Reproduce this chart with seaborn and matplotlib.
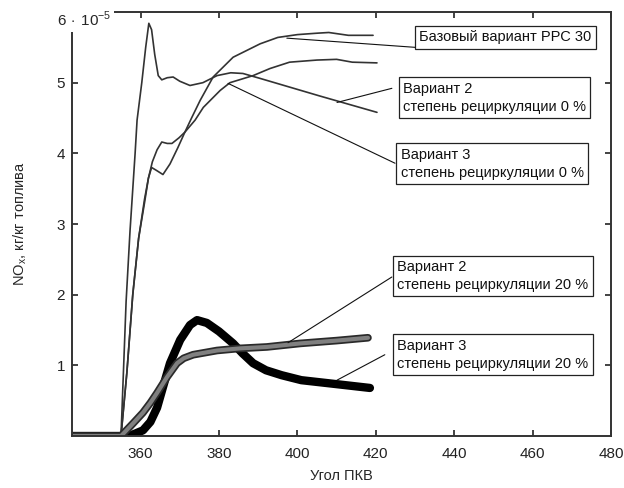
import matplotlib
matplotlib.use("Agg")
import matplotlib.pyplot as plt
import matplotlib.patheffects as pe
import pandas as pd
import seaborn as sns

# Crank angle (deg) and NOx (x 1e-5 kg/kg fuel)
base_x = [342.5, 355.0, 356.5, 358.0, 359.5, 361.0, 362.0, 362.8, 364.0, 365.7, 367.5,
          369.5, 371.3, 373.0, 375.2, 378.5, 383.6, 390.5, 395.0, 400.0, 405.0, 408.0,
          413.0, 419.3]
base_y = [0.0, 0.0, 0.9, 2.0, 2.8, 3.3, 3.65, 3.80, 3.76, 3.70, 3.85,
          4.08, 4.30, 4.50, 4.75, 5.08, 5.36, 5.55, 5.64, 5.68, 5.70, 5.71,
          5.67, 5.67]

v2_0_x = [342.5, 355.0, 356.3, 357.3, 358.6, 359.1, 360.3, 361.3, 362.1, 362.8, 363.6,
          364.5, 365.4, 366.8, 368.3, 370.0, 372.6, 375.9, 379.5, 383.0, 386.1,
          390.5, 405.8, 420.3]
v2_0_y = [0.0, 0.0, 1.9, 2.9, 4.0, 4.47, 5.0, 5.5, 5.84, 5.75, 5.4,
          5.1, 5.04, 5.07, 5.08, 5.02, 4.96, 5.0, 5.1, 5.14, 5.13,
          5.06, 4.81, 4.58]

v3_0_x = [342.5, 355.0, 356.5, 358.0, 359.5, 361.0, 362.0, 363.0, 364.2, 365.4, 366.8,
          368.0, 369.8, 371.3, 373.9, 376.0, 380.3, 382.8, 388.7, 393.0, 398.0,
          405.0, 410.0, 414.0, 420.3]
v3_0_y = [0.0, 0.0, 0.9, 2.0, 2.8, 3.35, 3.65, 3.88, 4.05, 4.16, 4.14,
          4.14, 4.22, 4.30, 4.47, 4.65, 4.89, 5.0, 5.1, 5.2, 5.29,
          5.32, 5.33, 5.29, 5.28]

v2_20_x = [342.5, 355.0, 358.1, 360.6, 362.5, 364.2, 366.7, 369.3, 371.0, 373.4,
           379.5, 385.4, 392.2, 400.7, 410.0, 418.0]
v2_20_y = [0.0, 0.0, 0.18, 0.33, 0.47, 0.61, 0.83, 1.03, 1.10, 1.15,
           1.21, 1.24, 1.26, 1.31, 1.35, 1.39]

v3_20_x = [342.5, 356.0, 358.0, 360.6, 362.5, 364.2, 365.7, 367.5, 370.1, 372.6,
           374.4, 376.9, 380.0, 383.6, 386.0, 388.7, 392.0, 396.0, 401.0, 409.0, 418.5]
v3_20_y = [0.0, 0.0, 0.02, 0.08, 0.2, 0.4, 0.69, 1.03, 1.36, 1.57,
           1.64, 1.60, 1.48, 1.31, 1.17, 1.03, 0.93, 0.86, 0.79, 0.74, 0.68]

x_ticks = [360, 380, 400, 420, 440, 460, 480]
y_ticks = [1, 2, 3, 4, 5]

labels = ["Базовый вариант РРС 30",
          "Вариант 2\nстепень рециркуляции 0 %",
          "Вариант 3\nстепень рециркуляции 0 %",
          "Вариант 2\nстепень рециркуляции 20 %",
          "Вариант 3\nстепень рециркуляции 20 %"]

sns.set_theme(style="ticks")
plt.rcParams["font.family"] = ["Liberation Sans", "DejaVu Sans"]
plt.rcParams["mathtext.fontset"] = "custom"
plt.rcParams["mathtext.rm"] = "Liberation Sans"
plt.rcParams["xtick.direction"] = "in"
plt.rcParams["ytick.direction"] = "in"

fig = plt.figure(figsize=(6.24, 4.88), dpi=100)
ax = fig.add_axes([72 / 624, 1 - 436 / 488, 539 / 624, 424 / 488])

thin = dict(color="#333333", linewidth=1.2)
sns.lineplot(data=pd.DataFrame({"x": base_x, "y": base_y}), x="x", y="y", ax=ax, **thin)
sns.lineplot(data=pd.DataFrame({"x": v2_0_x, "y": v2_0_y}), x="x", y="y", ax=ax, **thin)
sns.lineplot(data=pd.DataFrame({"x": v3_0_x, "y": v3_0_y}), x="x", y="y", ax=ax, **thin)

sns.lineplot(data=pd.DataFrame({"x": v3_20_x, "y": v3_20_y}), x="x", y="y", ax=ax,
             color="black", linewidth=6, solid_capstyle="round")
sns.lineplot(data=pd.DataFrame({"x": v2_20_x, "y": v2_20_y}), x="x", y="y", ax=ax,
             color="#808080", linewidth=3, solid_capstyle="round",
             path_effects=[pe.Stroke(linewidth=5.5, foreground="#2a2a2a"), pe.Normal()])

ax.set_xlim(342.5, 480)
ax.set_ylim(0, 6)
ax.set_xticks(x_ticks)
ax.set_yticks(y_ticks)
ax.tick_params(axis="both", labelsize=11, length=4, width=1.2, colors="#222222",
               top=True, right=True)
ax.tick_params(axis="x", pad=8)
ax.tick_params(axis="y", pad=5)
for s in ax.spines.values():
    s.set_linewidth(1.4)
    s.set_color("#333333")

ax.set_xlabel("Угол ПКВ", fontsize=10.5, labelpad=6)
ax.set_ylabel("NO$_\\mathrm{x}$, кг/кг топлива", fontsize=10.5, labelpad=20)

ax.text(-0.028, 0.982, "6$\\,\\cdot\\,$10$^{-5}$", transform=ax.transAxes, fontsize=11,
        ha="left", va="center",
        bbox=dict(boxstyle="square,pad=0.2", fc="white", ec="none"))

# Callout boxes (axes fractions)
box_pos = [(0.644, 0.940), (0.614, 0.798), (0.610, 0.642), (0.603, 0.377), (0.603, 0.192)]
for (bx, by), txt in zip(box_pos, labels):
    ax.text(bx, by, txt, transform=ax.transAxes, fontsize=10.5, ha="left", va="center",
            linespacing=1.35, color="#111111",
            bbox=dict(boxstyle="square,pad=0.3", fc="white", ec="#222222", lw=0.9))

# Leader lines: (start, end) in data coordinates
leaders = [((430.0, 5.50), (397.3, 5.63)),
           ((424.1, 4.92), (410.1, 4.72)),
           ((424.9, 3.86), (382.3, 4.99)),
           ((424.1, 2.25), (397.6, 1.32)),
           ((422.3, 1.15), (410.1, 0.79))]
for (sx, sy), (ex, ey) in leaders:
    ax.annotate("", xy=(ex, ey), xytext=(sx, sy),
                arrowprops=dict(arrowstyle="-", lw=0.8, color="#111111",
                                shrinkA=0, shrinkB=0))

fig.savefig("out.png", dpi=100, facecolor="white")
